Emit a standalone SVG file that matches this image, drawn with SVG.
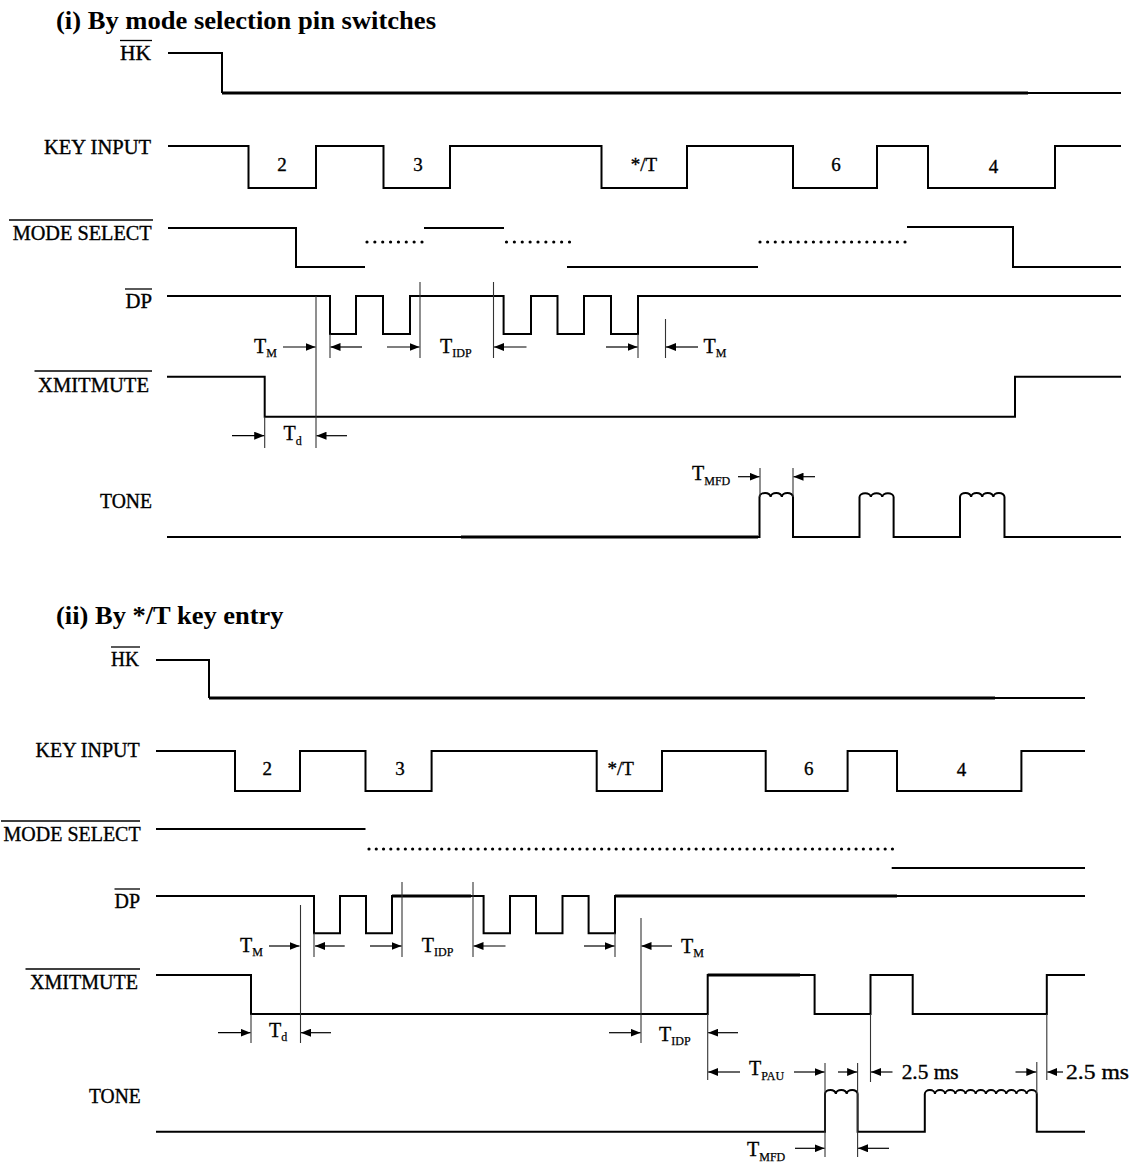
<svg xmlns="http://www.w3.org/2000/svg" width="1136" height="1172" viewBox="0 0 1136 1172">
<style>
text{font-family:"Liberation Serif","Times New Roman",serif;fill:#000}
.title{font-size:25px;font-weight:bold}
.lbl{font-size:20px;stroke:#000;stroke-width:0.35}
.key{font-size:19px;text-anchor:middle;stroke:#000;stroke-width:0.35}
.sub{font-size:12px;stroke-width:0.25}
.sig{fill:none;stroke:#000;stroke-width:2;stroke-linejoin:miter;stroke-linecap:butt}
.thk{fill:none;stroke:#000;stroke-width:3}
.ov{stroke:#000;stroke-width:1.3}
.dots{fill:none;stroke:#000;stroke-width:3.2;stroke-linecap:round}
.tick{stroke:#333;stroke-width:1.1}
.arr{stroke:#000;stroke-width:1.2;marker-end:url(#ah)}
</style>
<defs>
<marker id="ah" markerUnits="userSpaceOnUse" markerWidth="10" markerHeight="8" refX="10" refY="4" orient="auto">
<path d="M0,0 L10,4 L0,8 z" fill="#000"/>
</marker>
</defs>
<rect width="1136" height="1172" fill="#fff"/>

<!-- ================= Section (i) ================= -->
<text class="title" x="56" y="29" textLength="380" lengthAdjust="spacingAndGlyphs">(i) By mode selection pin switches</text>

<g id="hk1">
<text class="lbl" x="120" y="60" textLength="31" lengthAdjust="spacingAndGlyphs">HK</text>
<line class="ov" x1="120" y1="40.5" x2="152" y2="40.5"/>
<path class="sig" d="M168,53 H222 V93"/>
<path class="thk" d="M222,93 H1028"/>
<path class="sig" d="M1028,93 H1121"/>
</g>

<g id="key1">
<text class="lbl" x="44" y="154" textLength="107" lengthAdjust="spacingAndGlyphs">KEY INPUT</text>
<path class="sig" d="M168,146 H248.5 V188 H316 V146 H383.5 V188 H450 V146 H601.5 V188 H687 V146 H793 V188 H877 V146 H928 V188 H1055 V146 H1121"/>
<text class="key" x="282" y="171">2</text>
<text class="key" x="418" y="171">3</text>
<text class="key" x="644" y="171">*/T</text>
<text class="key" x="836" y="171">6</text>
<text class="key" x="993.5" y="172.5">4</text>
</g>

<g id="mode1">
<text class="lbl" x="12.7" y="240" textLength="139" lengthAdjust="spacingAndGlyphs">MODE SELECT</text>
<line class="ov" x1="9" y1="220" x2="153" y2="220"/>
<path class="sig" d="M168,228 H296 V267 H365"/>
<path class="dots" d="M367,242 H422.3" stroke-dasharray="0 7.857"/>
<path class="sig" d="M424,228 H504"/>
<path class="dots" d="M506.5,242 H569.8" stroke-dasharray="0 7.875"/>
<path class="sig" d="M567,267 H758"/>
<path class="dots" d="M760,242 H905.3" stroke-dasharray="0 7.632"/>
<path class="sig" d="M907,227 H1013 V267 H1121"/>
</g>

<g id="dp1">
<text class="lbl" x="125.5" y="307.5" textLength="26.5" lengthAdjust="spacingAndGlyphs">DP</text>
<line class="ov" x1="125" y1="289" x2="152" y2="289"/>
<path class="sig" d="M167,296 H330 V334 H356 V296 H383 V334 H410 V296 H503.6 V334 H531 V296 H557.5 V334 H584 V296 H611 V334 H638 V296 H1121"/>
</g>

<g id="xmit1">
<text class="lbl" x="38" y="391.5" textLength="111" lengthAdjust="spacingAndGlyphs">XMITMUTE</text>
<line class="ov" x1="34.5" y1="371" x2="152" y2="371"/>
<path class="sig" d="M167,376.7 H264.7 V416.7 H1015 V376.7 H1121"/>
</g>

<g id="tone1">
<text class="lbl" x="100" y="508" textLength="52" lengthAdjust="spacingAndGlyphs">TONE</text>
<path class="sig" d="M167,537 H759.5 V497 a5.58,4 0 0 1 11.17,0 a5.58,4 0 0 1 11.17,0 a5.58,4 0 0 1 11.17,0 V537 H859.5 V497 a5.7,4 0 0 1 11.37,0 a5.7,4 0 0 1 11.37,0 a5.7,4 0 0 1 11.37,0 V537 H960 V497 a5.56,4 0 0 1 11.12,0 a5.56,4 0 0 1 11.12,0 a5.56,4 0 0 1 11.12,0 a5.56,4 0 0 1 11.12,0 V537 H1121"/>
<path class="thk" d="M461,537 H758"/>
</g>

<g id="connectors1">
<line class="tick" x1="316" y1="296" x2="316" y2="448"/>
<line class="tick" x1="330" y1="334" x2="330" y2="358"/>
<line class="tick" x1="420" y1="282" x2="420" y2="358"/>
<line class="tick" x1="493.5" y1="282" x2="493.5" y2="358"/>
<line class="tick" x1="638" y1="334" x2="638" y2="358"/>
<line class="tick" x1="665.5" y1="319" x2="665.5" y2="358"/>
<line class="tick" x1="264.7" y1="416.7" x2="264.7" y2="448"/>
<line class="tick" x1="760" y1="468" x2="760" y2="497"/>
<line class="tick" x1="793" y1="468" x2="793" y2="497"/>
<line class="arr" x1="283" y1="347" x2="315.5" y2="347"/>
<line class="arr" x1="362" y1="347" x2="330.5" y2="347"/>
<line class="arr" x1="387" y1="347" x2="419.5" y2="347"/>
<line class="arr" x1="526.5" y1="347" x2="494" y2="347"/>
<line class="arr" x1="606" y1="347" x2="637.5" y2="347"/>
<line class="arr" x1="698" y1="347" x2="666" y2="347"/>
<line class="arr" x1="232" y1="435.7" x2="264.2" y2="435.7"/>
<line class="arr" x1="347" y1="435.7" x2="316.5" y2="435.7"/>
<line class="arr" x1="738" y1="476.7" x2="759.5" y2="476.7"/>
<line class="arr" x1="815" y1="476.7" x2="793.5" y2="476.7"/>
<text class="lbl" x="254" y="352.5">T<tspan class="sub" dy="4.5">M</tspan></text>
<text class="lbl" x="440" y="352.5">T<tspan class="sub" dy="4.5">IDP</tspan></text>
<text class="lbl" x="703.5" y="352.5">T<tspan class="sub" dy="4.5">M</tspan></text>
<text class="lbl" x="283.6" y="440">T<tspan class="sub" dy="5">d</tspan></text>
<text class="lbl" x="692" y="480">T<tspan class="sub" dy="5">MFD</tspan></text>
</g>

<!-- ================= Section (ii) ================= -->
<text class="title" x="56" y="624" textLength="227.6" lengthAdjust="spacingAndGlyphs">(ii) By */T key entry</text>

<g id="hk2">
<text class="lbl" x="111" y="666" textLength="28" lengthAdjust="spacingAndGlyphs">HK</text>
<line class="ov" x1="111" y1="647" x2="140" y2="647"/>
<path class="sig" d="M156,660 H209 V698"/>
<path class="thk" d="M209,698 H995"/>
<path class="sig" d="M995,698 H1085"/>
</g>

<g id="key2">
<text class="lbl" x="35.6" y="756.7" textLength="104" lengthAdjust="spacingAndGlyphs">KEY INPUT</text>
<path class="sig" d="M156,751 H235 V791 H300 V751 H365.5 V791 H431.6 V751 H596.7 V791 H662 V751 H765.7 V791 H847.6 V751 H897 V791 H1021.4 V751 H1085"/>
<text class="key" x="267.3" y="775">2</text>
<text class="key" x="400" y="775">3</text>
<text class="key" x="620.6" y="775">*/T</text>
<text class="key" x="808.7" y="775">6</text>
<text class="key" x="961.5" y="776">4</text>
</g>

<g id="mode2">
<text class="lbl" x="3.6" y="840.5" textLength="137" lengthAdjust="spacingAndGlyphs">MODE SELECT</text>
<line class="ov" x1="1" y1="821" x2="140" y2="821"/>
<path class="sig" d="M156,829 H365.5"/>
<path class="dots" d="M369,849 H892.8" stroke-dasharray="0 7.27"/>
<path class="sig" d="M891.7,868 H1085"/>
</g>

<g id="dp2">
<text class="lbl" x="114.5" y="907.5" textLength="25.5" lengthAdjust="spacingAndGlyphs">DP</text>
<line class="ov" x1="114.5" y1="889" x2="140" y2="889"/>
<path class="sig" d="M156,896 H314 V933.3 H340 V896 H366 V933.3 H392 V896 H483.6 V933.3 H510 V896 H536 V933.3 H562.5 V896 H588.6 V933.3 H615 V896 H1085"/>
<path class="thk" d="M392,896 H471 M615,896 H897"/>
</g>

<g id="xmit2">
<text class="lbl" x="30" y="989" textLength="108" lengthAdjust="spacingAndGlyphs">XMITMUTE</text>
<line class="ov" x1="25.5" y1="969" x2="140" y2="969"/>
<path class="sig" d="M156,975 H251 V1014 H707.7 V975 H814.6 V1014 H870.5 V975 H912.7 V1014 H1046.8 V975 H1085"/>
<path class="thk" d="M707.7,975 H800"/>
</g>

<g id="tone2">
<text class="lbl" x="89" y="1103" textLength="51.7" lengthAdjust="spacingAndGlyphs">TONE</text>
<path class="sig" d="M156,1131.7 H825 V1094 a5.43,4 0 0 1 10.87,0 a5.43,4 0 0 1 10.87,0 a5.43,4 0 0 1 10.87,0 V1131.7 H924.8 V1094 a5.09,4 0 0 1 10.18,0 a5.09,4 0 0 1 10.18,0 a5.09,4 0 0 1 10.18,0 a5.09,4 0 0 1 10.18,0 a5.09,4 0 0 1 10.18,0 a5.09,4 0 0 1 10.18,0 a5.09,4 0 0 1 10.18,0 a5.09,4 0 0 1 10.18,0 a5.09,4 0 0 1 10.18,0 a5.09,4 0 0 1 10.18,0 a5.09,4 0 0 1 10.18,0 V1131.7 H1085"/>
</g>

<g id="connectors2">
<line class="tick" x1="300.5" y1="905" x2="300.5" y2="1043"/>
<line class="tick" x1="314" y1="933" x2="314" y2="957"/>
<line class="tick" x1="402" y1="882" x2="402" y2="957"/>
<line class="tick" x1="473" y1="882" x2="473" y2="957"/>
<line class="tick" x1="615" y1="933" x2="615" y2="957"/>
<line class="tick" x1="641" y1="918" x2="641" y2="1043"/>
<line class="tick" x1="251" y1="1014" x2="251" y2="1043"/>
<line class="tick" x1="707.7" y1="1014" x2="707.7" y2="1080"/>
<line class="tick" x1="825" y1="1063" x2="825" y2="1157"/>
<line class="tick" x1="857.6" y1="1063" x2="857.6" y2="1157"/>
<line class="tick" x1="870.5" y1="1014" x2="870.5" y2="1082"/>
<line class="tick" x1="1036.8" y1="1062" x2="1036.8" y2="1094"/>
<line class="tick" x1="1046.8" y1="1014" x2="1046.8" y2="1080"/>
<line class="arr" x1="269" y1="946" x2="299.5" y2="946"/>
<line class="arr" x1="344.7" y1="946" x2="315" y2="946"/>
<line class="arr" x1="370" y1="946" x2="401.5" y2="946"/>
<line class="arr" x1="505.5" y1="946" x2="473.5" y2="946"/>
<line class="arr" x1="584" y1="946" x2="614.5" y2="946"/>
<line class="arr" x1="672" y1="946" x2="641.5" y2="946"/>
<line class="arr" x1="218" y1="1032.7" x2="250.5" y2="1032.7"/>
<line class="arr" x1="331" y1="1032.7" x2="301" y2="1032.7"/>
<line class="arr" x1="609" y1="1032.7" x2="640.5" y2="1032.7"/>
<line class="arr" x1="738" y1="1032.7" x2="708.2" y2="1032.7"/>
<line class="arr" x1="740" y1="1072" x2="708.2" y2="1072"/>
<line class="arr" x1="794" y1="1072" x2="824.5" y2="1072"/>
<line class="arr" x1="838" y1="1072" x2="857.1" y2="1072"/>
<line class="arr" x1="892.5" y1="1072" x2="871" y2="1072"/>
<line class="arr" x1="1015.5" y1="1072" x2="1036.3" y2="1072"/>
<line class="arr" x1="1063" y1="1072" x2="1047.3" y2="1072"/>
<line class="arr" x1="795" y1="1148.3" x2="824.5" y2="1148.3"/>
<line class="arr" x1="889" y1="1148.3" x2="858.1" y2="1148.3"/>
<text class="lbl" x="240" y="951.5">T<tspan class="sub" dy="4.5">M</tspan></text>
<text class="lbl" x="421.8" y="951.5">T<tspan class="sub" dy="4.5">IDP</tspan></text>
<text class="lbl" x="681" y="952.5">T<tspan class="sub" dy="4.5">M</tspan></text>
<text class="lbl" x="269" y="1036.5">T<tspan class="sub" dy="4.5">d</tspan></text>
<text class="lbl" x="659" y="1040.5">T<tspan class="sub" dy="4.5">IDP</tspan></text>
<text class="lbl" x="749" y="1075">T<tspan class="sub" dy="5">PAU</tspan></text>
<text class="lbl" x="901.7" y="1079" textLength="57" lengthAdjust="spacingAndGlyphs">2.5 ms</text>
<text class="lbl" x="1066" y="1079" textLength="63" lengthAdjust="spacingAndGlyphs">2.5 ms</text>
<text class="lbl" x="747" y="1156">T<tspan class="sub" dy="4.5">MFD</tspan></text>
</g>
</svg>
